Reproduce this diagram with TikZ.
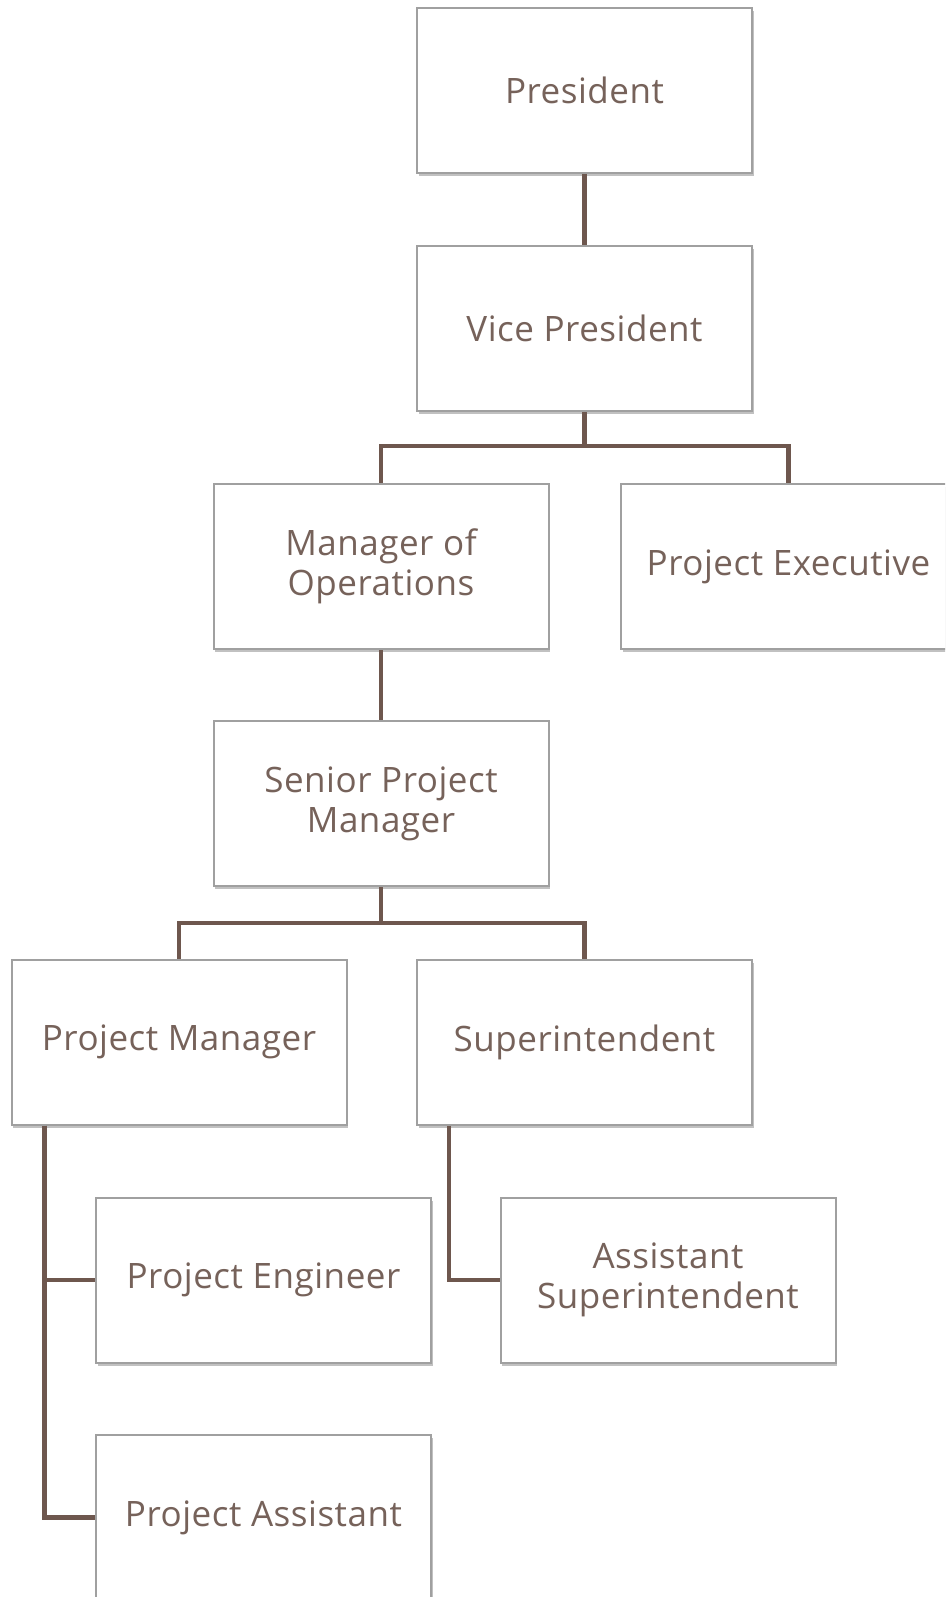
\documentclass[tikz,border=0pt]{standalone}
\usepackage{fontspec}
\setmainfont{Open Sans}[LetterSpace=1.5]
\usepackage{tikz}
\usetikzlibrary{shadows}

\definecolor{boxtext}{HTML}{76625A}
\definecolor{linkbrown}{HTML}{6E574E}
\definecolor{boxedge}{HTML}{A0A0A0}

\begin{document}
\begin{tikzpicture}[x=1pt,y=-1pt,line width=4pt,draw=linkbrown]
  \tikzstyle{post}=[draw=boxedge,line width=2pt,fill=white,
                    minimum width=335pt,minimum height=165pt,
                    text=boxtext,align=center,
                    font=\fontsize{35}{40}\selectfont,
                    drop shadow={shadow xshift=1.5pt,shadow yshift=-3pt,
                                 opacity=.4,fill=black!60}]
  \tikzstyle{link}=[draw=linkbrown,line width=4.5pt]

  \clip (0,0) rectangle (945,1597);
  \fill[white] (0,0) rectangle (945,1597);

  \node[post] (p)   at (584.5,90.5)  {President};
  \node[post] (vp)  at (584.5,328.5) {Vice President};
  \node[post] (mo)  at (381,566.5)   {Manager of\\Operations};
  \node[post] (pe)  at (788.5,566.5) {Project Executive};
  \node[post] (spm) at (381,803.5)   {Senior Project\\Manager};
  \node[post] (pm)  at (179,1042)    {Project Manager};
  \node[post] (su)  at (584.5,1042)  {Superintendent};
  \node[post] (pen) at (263.5,1280)  {Project Engineer};
  \node[post] (asu) at (668,1280)    {Assistant\\Superintendent};
  \node[post] (pa)  at (263.5,1517.5){Project Assistant};

  \draw[link] (p.south) -- (vp.north);
  \draw[link] (vp.south) -- ++(0,34) -| (mo.north);
  \draw[link] (vp.south) -- ++(0,34) -| (pe.north);
  \draw[link] (mo.south) -- (spm.north);
  \draw[link] (spm.south) -- ++(0,36) -| (pm.north);
  \draw[link] (spm.south) -- ++(0,36) -| (su.north);
  \draw[link] ([xshift=34pt]pm.south west) |- (pen.west);
  \draw[link] ([xshift=34pt]pm.south west) |- (pa.west);
  \draw[link] ([xshift=33pt]su.south west) |- (asu.west);
\end{tikzpicture}
\end{document}
